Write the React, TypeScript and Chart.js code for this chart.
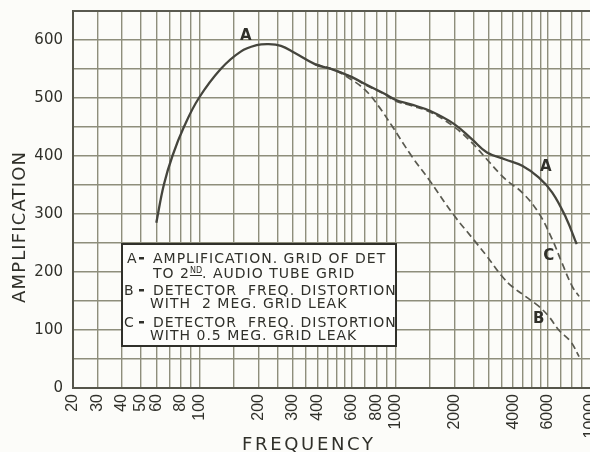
import React, { useEffect, useRef } from "react";
import { Chart, registerables } from "chart.js";

Chart.register(...registerables);

// ---------- axis definitions ----------
// The original graph paper's left edge sits a little above 20 c/s but carries the "20" label.
const X_MIN = 22.5;
const X_MAX = 10000;
const Y_MIN = 0;
const Y_MAX = 650;
const Y_STEP = 50;

const xGridValues = [
  X_MIN, 30, 40, 50, 60, 70, 80, 90, 100, 150, 200, 250, 300, 350, 400, 450, 500, 550,
  600, 700, 800, 900, 1000, 1500, 2000, 2500, 3000, 3500, 4000, 4500, 5000, 5500, 6000,
  7000, 8000, 9000, 10000,
];
const xTickValues = [X_MIN, 30, 40, 50, 60, 80, 100, 200, 300, 400, 600, 800, 1000, 2000, 4000, 6000, 10000];
const xTickLabels = ["20", "30", "40", "50", "60", "80", "100", "200", "300", "400", "600", "800", "1000", "2000", "4000", "6000", "10000"];
const yLabelEvery = 100;

const xTitle = "FREQUENCY";
const yTitle = "AMPLIFICATION";

// ---------- series ----------
const freqA = [60, 65.5, 72.5, 83.5, 99, 128, 162, 195, 225, 260, 305, 390, 480, 600, 700, 885, 1000, 1200, 1500, 2000, 2460, 2940, 3650, 4450, 5400, 6340, 7440, 8450];
const ampA = [285, 350, 400, 452, 500, 550, 580, 591, 593, 590, 578, 558, 549, 536, 524, 507, 497, 489, 478, 455, 429, 406, 394, 383, 363, 337, 294, 248];

const freqB = [390, 480, 575, 700, 820, 960, 1210, 1480, 1980, 2510, 2940, 3500, 3950, 4620, 5400, 6100, 6840, 7870, 8690];
const ampB = [558, 549, 535, 514, 486, 452, 400, 360, 299, 256, 227, 193, 175, 158, 141, 123, 100, 80, 54];

const freqC = [390, 480, 600, 700, 885, 1000, 1200, 1500, 2000, 2460, 2940, 3650, 4450, 5400, 6340, 7100, 8020, 8690];
const ampC = [558, 549, 536, 523, 506, 495, 487, 476, 450, 423, 394, 360, 337, 302, 256, 216, 175, 158];

const seriesNames = ["A", "B", "C"];

// curve letters written on the chart (data coordinates)
const curveLabelText = ["A", "A", "C", "B"];
const curveLabelFreq = [172, 5880, 6090, 5400];
const curveLabelAmp = [607, 381, 227, 118];

// key box text
const keyLetters = ["A", "B", "C"];
const keyLines = [
  ["AMPLIFICATION. GRID OF DET", "TO 2|ND|. AUDIO TUBE GRID"],
  ["DETECTOR  FREQ. DISTORTION", "WITH  2 MEG. GRID LEAK"],
  ["DETECTOR  FREQ. DISTORTION", "WITH 0.5 MEG. GRID LEAK"],
];

// ---------- styles ----------
const INK = "#30302a";
const GRID = "#8e8e7c";
const CURVE = "#45453d";
const DASH = "#5a5a50";
const PAPER = "#fcfcf9";
const FONT = '"DejaVu Sans", sans-serif';
const TICK_FONT_X = '"Liberation Sans", sans-serif';

const toPoints = (fs: number[], vs: number[]) => fs.map((f, i) => ({ x: f, y: vs[i] }));

function spacedText(ctx: CanvasRenderingContext2D, text: string, x: number, y: number, width: number) {
  (ctx as any).letterSpacing = "0px";
  const w = ctx.measureText(text).width;
  const sp = text.length > 1 ? (width - w) / (text.length - 1) : 0;
  (ctx as any).letterSpacing = sp + "px";
  ctx.textAlign = "left";
  ctx.fillText(text, x, y);
  (ctx as any).letterSpacing = "0px";
}

const paperPlugin = {
  id: "paper",
  beforeDraw(chart: any) {
    const { ctx, width, height } = chart;
    ctx.save();
    ctx.fillStyle = PAPER;
    ctx.fillRect(0, 0, width, height);
    ctx.restore();
  },
};

const decorPlugin = {
  id: "decor",
  afterDraw(chart: any) {
    const { ctx, chartArea } = chart;
    const xs = chart.scales.x;
    const ys = chart.scales.y;
    ctx.save();
    // top frame line
    ctx.strokeStyle = "#5a5a50";
    ctx.lineWidth = 2;
    ctx.beginPath();
    ctx.moveTo(chartArea.left, chartArea.top);
    ctx.lineTo(chartArea.right, chartArea.top);
    ctx.stroke();

    // axis titles
    ctx.fillStyle = INK;
    ctx.font = `18px ${FONT}`;
    ctx.textBaseline = "alphabetic";
    spacedText(ctx, xTitle, 242, 450, 131);
    ctx.save();
    ctx.translate(25, 303);
    ctx.rotate(-Math.PI / 2);
    spacedText(ctx, yTitle, 0, 0, 151);
    ctx.restore();

    // curve letters
    ctx.font = `bold 15px ${FONT}`;
    ctx.textAlign = "center";
    ctx.textBaseline = "middle";
    curveLabelText.forEach((t, i) => {
      ctx.fillText(t, xs.getPixelForValue(curveLabelFreq[i]), ys.getPixelForValue(curveLabelAmp[i]));
    });

    // key box
    const bx = 122, by = 244, bw = 274, bh = 102;
    ctx.fillStyle = "#fdfdfb";
    ctx.fillRect(bx, by, bw, bh);
    ctx.strokeStyle = INK;
    ctx.lineWidth = 2;
    ctx.strokeRect(bx, by, bw, bh);
    ctx.fillStyle = INK;
    ctx.textBaseline = "alphabetic";
    const baselines = [[263, 278], [295, 308], [327, 340]];
    keyLetters.forEach((letter, k) => {
      const y0 = baselines[k][0];
      ctx.font = `14px ${FONT}`;
      ctx.textAlign = "left";
      ctx.fillText(letter, k === 0 ? 127 : 124, y0);
      ctx.fillRect(139, y0 - 6, 5, 2.5);
      keyLines[k].forEach((line, j) => {
        const y = baselines[k][j];
        const x0 = j === 0 ? 153 : 150;
        (ctx as any).letterSpacing = "1px";
        if (line.includes("|")) {
          const [a, sup, b] = line.split("|");
          ctx.font = `14px ${FONT}`;
          ctx.fillText(a, x0 + 3, y);
          let x = x0 + 3 + ctx.measureText(a).width;
          ctx.font = `8px ${FONT}`;
          (ctx as any).letterSpacing = "0px";
          ctx.fillText(sup, x, y - 5);
          const sw = ctx.measureText(sup).width;
          ctx.fillRect(x, y - 3, sw, 1);
          x += sw;
          ctx.font = `14px ${FONT}`;
          (ctx as any).letterSpacing = "1px";
          ctx.fillText(b, x, y);
        } else {
          ctx.font = `14px ${FONT}`;
          ctx.fillText(line, x0, y);
        }
        (ctx as any).letterSpacing = "0px";
      });
    });
    ctx.restore();
  },
};

export default function App() {
  const ref = useRef<HTMLCanvasElement | null>(null);

  useEffect(() => {
    if (!ref.current) return;
    const chart = new Chart(ref.current, {
      type: "line",
      data: {
        datasets: [
          {
            label: seriesNames[0],
            data: toPoints(freqA, ampA),
            borderColor: CURVE,
            borderWidth: 2.3,
            pointRadius: 0,
            tension: 0.4,
            fill: false,
          },
          {
            label: seriesNames[1],
            data: toPoints(freqB, ampB),
            borderColor: DASH,
            borderWidth: 1.7,
            borderDash: [7, 4],
            pointRadius: 0,
            tension: 0.4,
            fill: false,
          },
          {
            label: seriesNames[2],
            data: toPoints(freqC, ampC),
            borderColor: DASH,
            borderWidth: 1.7,
            borderDash: [7, 4],
            pointRadius: 0,
            tension: 0.4,
            fill: false,
          },
        ],
      },
      options: {
        animation: false,
        responsive: false,
        devicePixelRatio: 1,
        layout: { padding: { top: 11, right: 21, left: 0, bottom: 0 } },
        plugins: { legend: { display: false }, tooltip: { enabled: false }, title: { display: false } },
        scales: {
          x: {
            type: "logarithmic",
            min: X_MIN,
            max: X_MAX,
            afterBuildTicks: (scale: any) => {
              scale.ticks = xGridValues.map((v) => ({ value: v }));
            },
            afterFit: (scale: any) => {
              scale.height = 64;
              scale.paddingLeft = 0;
              scale.paddingRight = 0;
            },
            grid: { color: GRID, lineWidth: 1.4, drawTicks: false },
            border: { display: true, color: "#55554a", width: 2 },
            ticks: {
              autoSkip: false,
              minRotation: 90,
              maxRotation: 90,
              padding: 6,
              color: INK,
              font: { family: TICK_FONT_X, size: 16 },
              callback: (value: any) => {
                const i = xTickValues.indexOf(Number(value));
                return i >= 0 ? xTickLabels[i] : "";
              },
            },
          },
          y: {
            type: "linear",
            min: Y_MIN,
            max: Y_MAX,
            afterFit: (scale: any) => {
              scale.width = 73;
              scale.paddingTop = 0;
              scale.paddingBottom = 0;
            },
            grid: { color: GRID, lineWidth: 1.4, drawTicks: false },
            border: { display: true, color: "#55554a", width: 2 },
            ticks: {
              stepSize: Y_STEP,
              padding: 10,
              color: INK,
              font: { family: FONT, size: 15 },
              callback: (value: any) => (Number(value) % yLabelEvery === 0 ? String(value) : ""),
            },
          },
        },
      },
      plugins: [paperPlugin, decorPlugin],
    });
    return () => chart.destroy();
  }, []);

  return (
    <div style={{ position: "fixed", left: 0, top: 0, width: 590, height: 452, overflow: "hidden", background: PAPER }}>
      <canvas ref={ref} width={612} height={452} style={{ width: 612, height: 452, display: "block" }} />
    </div>
  );
}
